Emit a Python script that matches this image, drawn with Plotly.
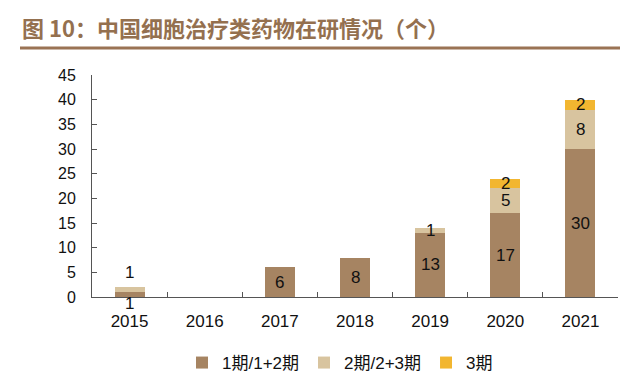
import plotly.graph_objects as go

years = ["2015", "2016", "2017", "2018", "2019", "2020", "2021"]
phase1 = [1, 0, 6, 8, 13, 17, 30]
phase2 = [1, 0, 0, 0, 1, 5, 8]
phase3 = [0, 0, 0, 0, 0, 2, 2]
names = ["1期/1+2期", "2期/2+3期", "3期"]
colors = ["#A68462", "#D8C49F", "#F2B630"]
y_ticks = [0, 5, 10, 15, 20, 25, 30, 35, 40, 45]

FONT = "Liberation Sans, Arial, Noto Sans CJK SC"
L, R, T, B = 92, 22, 75, 92
PW, PH = 640 - L - R, 389 - T - B

fig = go.Figure()
series = [phase1, phase2, phase3]
for vals, nm, c in zip(series, names, colors):
    fig.add_trace(go.Bar(x=years, y=vals, name=nm, marker_color=c,
                         marker_line_width=0, width=0.4))

# data labels (x given as category index)
shifts = {(0, 0): -9, (1, 0): 17}
annotations = []
for i, yr in enumerate(years):
    base = 0
    for s, vals in enumerate(series):
        v = vals[i]
        if v > 0:
            annotations.append(dict(x=i, y=base + v / 2, text=str(v), showarrow=False,
                                    font=dict(family=FONT, size=17, color="#111111"),
                                    yshift=shifts.get((s, i), 0), xref="x", yref="y"))
        base += v

# title
annotations.append(dict(x=(20 - L) / PW, y=(389 - B - 27) / PH, xref="paper", yref="paper",
                        text="<b>图 10：中国细胞治疗类药物在研情况（个）</b>",
                        showarrow=False, xanchor="left", yanchor="middle",
                        font=dict(family="Noto Sans CJK SC", size=22, color="#94704F")))

fig.update_layout(
    barmode="stack",
    width=640, height=389,
    margin=dict(l=L, r=R, t=T, b=B, autoexpand=False),
    plot_bgcolor="white", paper_bgcolor="white",
    annotations=annotations,
    showlegend=True,
    legend=dict(orientation="h", x=(340 - L) / PW, xanchor="center",
                y=(389 - B - 363) / PH, yanchor="middle",
                font=dict(family=FONT, size=17, color="#111111"),
                itemwidth=30, traceorder="normal"),
    shapes=[dict(type="line", xref="paper", yref="paper",
                 x0=(20 - L) / PW, x1=(620 - L) / PW,
                 y0=(389 - B - 48) / PH, y1=(389 - B - 48) / PH,
                 line=dict(color="#9A7354", width=3))],
    xaxis=dict(type="category", range=[-0.5, len(years) - 0.5], showline=True,
               linecolor="#555555", linewidth=1, ticks="inside",
               tickson="boundaries", ticklen=5, tickcolor="#555555", tickangle=0,
               ticklabelstandoff=9,
               tickfont=dict(family=FONT, size=17, color="#111111"), showgrid=False),
    yaxis=dict(range=[0, 45], tickvals=y_ticks, showline=True, linecolor="#555555",
               linewidth=1, ticks="inside", ticklen=5, tickcolor="#555555",
               ticklabelstandoff=12,
               tickfont=dict(family=FONT, size=16, color="#111111"), showgrid=False,
               zeroline=False),
)
fig.write_html("out.html", post_script="document.body.style.margin='0';",
               config={"displayModeBar": False})
